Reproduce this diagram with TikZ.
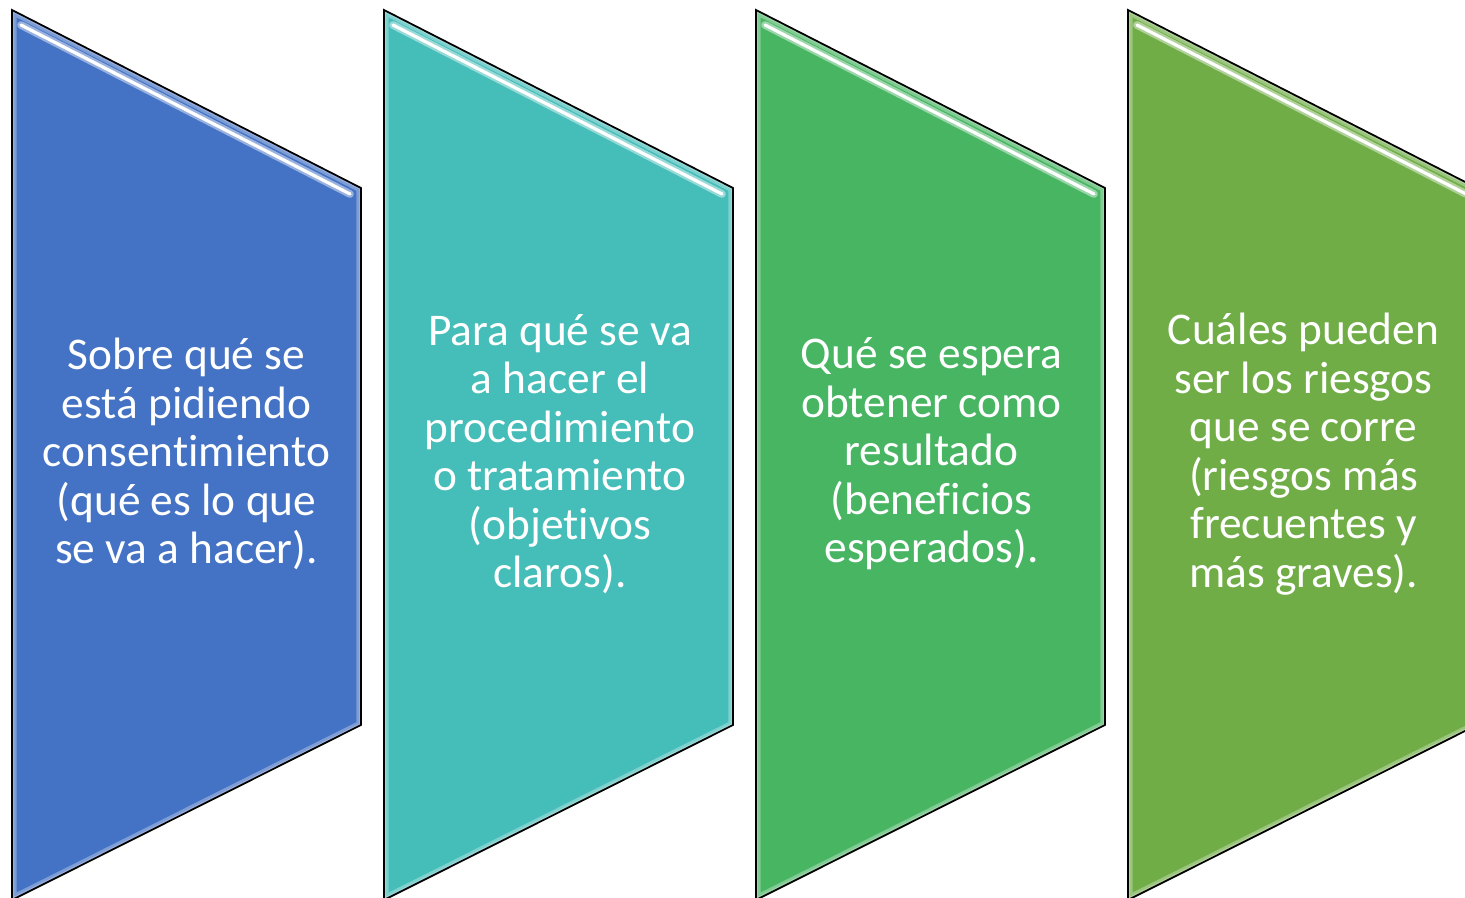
\documentclass[tikz,border=0pt]{standalone}
\usepackage{fontspec}
\setmainfont{Carlito}[Ligatures=NoCommon]
\definecolor{pblue}{HTML}{4472C4}
\definecolor{pteal}{HTML}{45BDB8}
\definecolor{pgreen}{HTML}{48B563}
\definecolor{polive}{HTML}{70AD47}
\begin{document}
\begin{tikzpicture}[x=0.01cm,y=-0.01cm,
  panel/.style={draw=black,line width=0.5pt},
  shine/.style={white,line width=0.9pt,line cap=round},
  ptext/.style={text=white,align=center,font=\fontsize{12.9}{13.8}\selectfont}]
\useasboundingbox (0,0) rectangle (1465,898);
\foreach \x/\col in {12/pblue,384/pteal,756/pgreen,1128/polive} {
  \fill[\col] (\x,10) -- ++(349,178) -- ++(0,537) -- ++(-349,175) -- cycle;
  \begin{scope}
    \clip (\x,10) -- ++(349,178) -- ++(0,537) -- ++(-349,175) -- cycle;
    \draw[white,opacity=.3,line width=2.6pt] (\x,10) -- ++(349,178) -- ++(0,537) -- ++(-349,175) -- cycle;
    \draw[white,opacity=.2,line width=1.2pt] (\x,10) -- ++(349,178) -- ++(0,537) -- ++(-349,175) -- cycle;
  \end{scope}
  \draw[white,opacity=.45,line width=2.2pt,line cap=round] (\x+9,25) -- ++(329,169);
  \draw[shine] (\x+9,25) -- ++(329,169);
  \draw[panel] (\x,10) -- ++(349,178) -- ++(0,537) -- ++(-349,175) -- cycle;
}
\node[ptext] (t1) at (186.5,454) {Sobre qué se\\está pidiendo\\consentimiento\\(qué es lo que\\se va a hacer).};
\node[ptext] (t2) at (560,454) {Para qué se va\\a hacer el\\procedimiento\\o tratamiento\\(objetivos\\claros).};
\node[ptext] (t3) at (931.5,454) {Qué se espera\\obtener como\\resultado\\(beneficios\\esperados).};
\node[ptext] (t4) at (1303.5,454) {Cuáles pueden\\ser los riesgos\\que se corre\\(riesgos más\\frecuentes y\\más graves).};
\end{tikzpicture}
\end{document}
